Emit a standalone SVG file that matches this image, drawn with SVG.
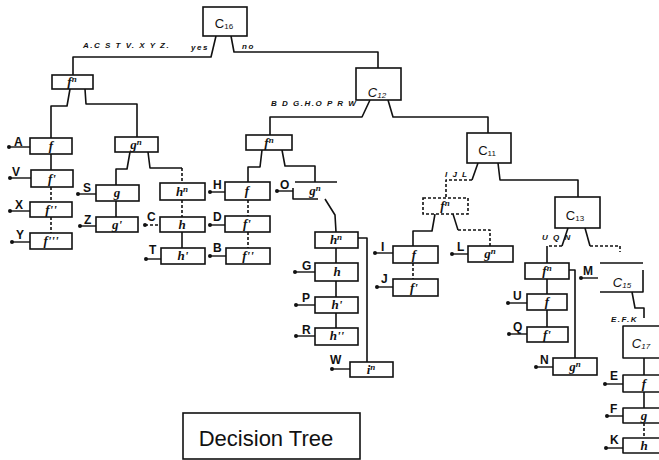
<svg xmlns="http://www.w3.org/2000/svg" width="659" height="460" viewBox="0 0 659 460">
<style>
.b{fill:#fff;stroke:#111;stroke-width:1.6}
.c{fill:none;stroke:#111;stroke-width:1.6;stroke-linejoin:round}
.d{stroke-dasharray:3 2}
.f{font-family:"Liberation Serif",serif;font-style:italic;font-weight:bold;font-size:13px;fill:#111;text-anchor:middle}
.n{font-size:9px}
.C{font-family:"Liberation Sans",sans-serif;font-size:13px;fill:#111;text-anchor:middle}
.L{font-family:"Liberation Sans",sans-serif;font-weight:bold;font-size:12px;fill:#111}
.s{font-family:"Liberation Sans",sans-serif;font-style:italic;font-weight:bold;font-size:8px;fill:#111;letter-spacing:1.5px}
.o{fill:none;stroke:#111;stroke-width:1.4}
.t{font-family:"Liberation Sans",sans-serif;font-size:22px;fill:#111;text-anchor:middle}
</style>
<defs>
<circle id="dot" r="2" fill="#111"/>
</defs>
<rect width="659" height="460" fill="#fff"/>

<g id="connectors">
<path class="c" d="M216,36 L211,57 L73,57 L73,75"/>
<path class="c" d="M231,36 L234,52 L378,52 L378,68"/>
<path class="c" d="M70,89 L67,106 L51,106 L51,138"/>
<path class="c" d="M85,89 L86,104 L137,104 L137,137"/>
<path class="c" d="M51,154 L51,170"/>
<path class="c d" d="M51,187 L51,202"/>
<path class="c d" d="M51,217 L51,233"/>
<path class="c" d="M130,152 L127,169 L116,169 L116,185"/>
<path class="c" d="M148,152 L150,168 L182,168"/>
<path class="c d" d="M182,168 L182,183"/>
<path class="c" d="M116,201 L116,217"/>
<path class="c d" d="M182,200 L182,217"/>
<path class="c" d="M182,232 L182,248"/>
<path class="c" d="M370,100 L362,117 L270,117 L270,135"/>
<path class="c" d="M388,100 L393,117 L488,117 L488,133"/>
<path class="c" d="M262,150 L260,167 L248,167 L248,182"/>
<path class="c" d="M282,150 L285,166 L315,166 L315,182"/>
<path class="c d" d="M248,200 L248,216"/>
<path class="c d" d="M248,232 L248,248"/>
<path class="c" d="M325,199 L335,215 L336,232"/>
<path class="c" d="M336,248 L336,263 M336,281 L336,297 M336,313 L336,328"/>
<path class="c" d="M358,238 L367,238 L367,362"/>
<path class="c" d="M478,163 L472,180"/>
<path class="c d" d="M472,180 L446,180 L446,198"/>
<path class="c" d="M498,163 L500,180 L578,180 L578,197"/>
<path class="c" d="M435,214 L432,231 L413,231 L413,246"/>
<path class="c" d="M453,214 L458,230"/>
<path class="c d" d="M458,230 L490,230 L490,246"/>
<path class="c d" d="M413,263 L413,279"/>
<path class="c" d="M568,228 L562,246"/>
<path class="c d" d="M562,246 L547,246"/>
<path class="c" d="M547,246 L547,263"/>
<path class="c" d="M585,228 L590,246"/>
<path class="c d" d="M590,246 L620,246 L620,252"/>
<path class="c" d="M547,279 L547,294 M547,310 L547,327"/>
<path class="c" d="M569,270 L575,270 L575,358"/>
<path class="c" d="M632,292 L635,308 L644,308 L644,318"/>
<path class="c" d="M644,358 L644,375 M644,392 L644,408"/>
<path class="c d" d="M644,423 L644,438"/>
</g>

<g id="branch-labels">
<text class="s" x="83" y="48">A.C S T V. X Y Z.</text>
<text class="s" x="191" y="50" letter-spacing="0.5">yes</text>
<text class="s" x="242" y="49" letter-spacing="0.5">no</text>
<text class="s" x="271" y="106">B D G.H.O P R W</text>
<text class="s" x="445" y="177">I J L</text>
<text class="s" x="542" y="240">U Q N</text>
<text class="s" x="611" y="322">E.F.K</text>
</g>

<g id="C16"><rect class="b" x="203" y="7" width="44" height="29"/><text class="C" x="224" y="28">C<tspan font-size="8" dy="1">16</tspan></text></g>
<g id="C12"><rect class="b" x="356" y="68" width="45" height="32"/><text class="C" x="377" y="97" font-style="italic">C<tspan font-size="8" dy="1">12</tspan></text></g>
<g id="C11"><rect class="b" x="467" y="133" width="44" height="30"/><text class="C" x="487" y="155">C<tspan font-size="8" dy="1">11</tspan></text></g>
<g id="C13"><rect class="b" x="555" y="197" width="45" height="31"/><text class="C" x="575" y="220">C<tspan font-size="8" dy="1">13</tspan></text></g>
<g id="C15"><path class="c" d="M600,263 H643 M643,270 V292 H600"/><text class="C" x="622" y="287" font-style="italic">C<tspan font-size="8" dy="1">15</tspan></text></g>
<g id="C17"><path class="c" d="M665,326 H623 V358 H665"/><text class="C" x="641" y="348" font-style="italic">C<tspan font-size="8" dy="1">17</tspan></text></g>

<g id="fn-1"><rect class="b" x="52" y="75" width="41" height="14"/><text class="f" x="72" y="86">f<tspan class="n" dy="-4">n</tspan></text></g>
<g id="gn-1"><rect class="b" x="115" y="137" width="43" height="15"/><text class="f" x="136" y="149">g<tspan class="n" dy="-4">n</tspan></text></g>
<g id="hn-1"><rect class="b" x="160" y="183" width="45" height="17"/><text class="f" x="182" y="196">h<tspan class="n" dy="-4">n</tspan></text></g>
<g id="fn-2"><rect class="b" x="246" y="135" width="46" height="15"/><text class="f" x="269" y="147">f<tspan class="n" dy="-4">n</tspan></text></g>
<g id="gn-2"><path class="c" d="M295,182 H337 M293,188 V199 H318"/><text class="f" x="315" y="195">g<tspan class="n" dy="-4">n</tspan></text></g>
<g id="hn-2"><rect class="b" x="315" y="232" width="43" height="16"/><text class="f" x="336" y="244">h<tspan class="n" dy="-4">n</tspan></text></g>
<g id="fn-3"><rect class="b d" x="423" y="198" width="45" height="16"/><text class="f" x="445" y="210">f<tspan class="n" dy="-4">n</tspan></text></g>
<g id="fn-4"><rect class="b" x="525" y="263" width="44" height="16"/><text class="f" x="547" y="275">f<tspan class="n" dy="-4">n</tspan></text></g>

<g id="leaf-A"><rect class="b" x="30" y="138" width="42" height="16"/><text class="f" x="51" y="150">f</text><path class="o" d="M9,147 H30"/><use href="#dot" x="9" y="147"/><text class="L" x="14" y="146">A</text></g>
<g id="leaf-V"><rect class="b" x="31" y="170" width="42" height="17"/><text class="f" x="52" y="183">f'</text><path class="o" d="M10,178 H31"/><use href="#dot" x="10" y="178"/><text class="L" x="12" y="176">V</text></g>
<g id="leaf-X"><rect class="b" x="30" y="202" width="42" height="15"/><text class="f" x="51" y="214">f''</text><path class="o" d="M10,211 H30"/><use href="#dot" x="10" y="211"/><text class="L" x="15" y="209">X</text></g>
<g id="leaf-Y"><rect class="b" x="30" y="233" width="42" height="16"/><text class="f" x="51" y="245">f'''</text><path class="o" d="M12,242 H30"/><use href="#dot" x="12" y="242"/><text class="L" x="16" y="239">Y</text></g>
<g id="leaf-S"><rect class="b" x="96" y="185" width="43" height="16"/><text class="f" x="117" y="197">g</text><path class="o" d="M78,194 H96"/><use href="#dot" x="78" y="194"/><text class="L" x="83" y="192">S</text></g>
<g id="leaf-Z"><rect class="b" x="96" y="217" width="42" height="15"/><text class="f" x="117" y="229">g'</text><path class="o" d="M80,226 H96"/><use href="#dot" x="80" y="226"/><text class="L" x="84" y="224">Z</text></g>
<g id="leaf-C"><rect class="b" x="160" y="217" width="45" height="15"/><text class="f" x="182" y="229">h</text><path class="o d" d="M145,225 H160"/><use href="#dot" x="145" y="225"/><text class="L" x="147" y="221">C</text></g>
<g id="leaf-T"><rect class="b" x="161" y="248" width="44" height="16"/><text class="f" x="183" y="260">h'</text><path class="o" d="M146,259 H161"/><use href="#dot" x="146" y="259"/><text class="L" x="149" y="254">T</text></g>
<g id="leaf-H"><rect class="b" x="225" y="182" width="45" height="18"/><text class="f" x="247" y="195">f</text><path class="o" d="M210,192 H225"/><use href="#dot" x="210" y="192"/><text class="L" x="213" y="189">H</text></g>
<g id="leaf-D"><rect class="b" x="225" y="216" width="45" height="16"/><text class="f" x="247" y="228">f'</text><path class="o" d="M210,225 H225"/><use href="#dot" x="210" y="225"/><text class="L" x="213" y="221">D</text></g>
<g id="leaf-B"><rect class="b" x="226" y="248" width="44" height="16"/><text class="f" x="248" y="260">f''</text><path class="o" d="M210,256 H226"/><use href="#dot" x="210" y="256"/><text class="L" x="213" y="252">B</text></g>
<g id="leaf-O"><path class="o" d="M277,191 H293"/><use href="#dot" x="277" y="191"/><text class="L" x="280" y="189" font-size="13">O</text></g>
<g id="leaf-G"><rect class="b" x="315" y="263" width="43" height="18"/><text class="f" x="337" y="276">h</text><path class="o" d="M295,272 H315"/><use href="#dot" x="295" y="272"/><text class="L" x="302" y="270">G</text></g>
<g id="leaf-P"><rect class="b" x="315" y="297" width="43" height="16"/><text class="f" x="337" y="309">h'</text><path class="o" d="M296,305 H315"/><use href="#dot" x="296" y="305"/><text class="L" x="302" y="302">P</text></g>
<g id="leaf-R"><rect class="b" x="315" y="328" width="43" height="17"/><text class="f" x="337" y="340">h''</text><path class="o" d="M296,336 H315"/><use href="#dot" x="296" y="336"/><text class="L" x="302" y="334">R</text></g>
<g id="leaf-W"><rect class="b" x="350" y="362" width="43" height="15"/><text class="f" x="371" y="374">i<tspan class="n" dy="-4">n</tspan></text><path class="o" d="M332,369 H350"/><use href="#dot" x="332" y="369"/><text class="L" x="330" y="364" font-size="13">W</text></g>
<g id="leaf-I"><rect class="b" x="393" y="246" width="45" height="17"/><text class="f" x="414" y="259">f</text><path class="o" d="M375,253 H393"/><use href="#dot" x="375" y="253"/><text class="L" x="381" y="251">I</text></g>
<g id="leaf-J"><rect class="b" x="393" y="279" width="45" height="17"/><text class="f" x="414" y="292">f'</text><path class="o" d="M377,287 H393"/><use href="#dot" x="377" y="287"/><text class="L" x="381" y="283">J</text></g>
<g id="leaf-L"><rect class="b" x="468" y="246" width="45" height="16"/><text class="f" x="490" y="258">g<tspan class="n" dy="-4">n</tspan></text><path class="o" d="M452,254 H468"/><use href="#dot" x="452" y="254"/><text class="L" x="457" y="251">L</text></g>
<g id="leaf-U"><rect class="b" x="527" y="294" width="40" height="16"/><text class="f" x="547" y="306">f</text><path class="o" d="M508,303 H527"/><use href="#dot" x="508" y="303"/><text class="L" x="513" y="300">U</text></g>
<g id="leaf-Q"><rect class="b" x="527" y="327" width="41" height="15"/><text class="f" x="547" y="339">f'</text><path class="o" d="M509,334 H527"/><use href="#dot" x="509" y="334"/><text class="L" x="513" y="331">Q</text></g>
<g id="leaf-N"><rect class="b" x="553" y="358" width="44" height="17"/><text class="f" x="575" y="371">g<tspan class="n" dy="-4">n</tspan></text><path class="o" d="M536,367 H553"/><use href="#dot" x="536" y="367"/><text class="L" x="540" y="364">N</text></g>
<g id="leaf-M"><path class="o" d="M581,278 H598"/><use href="#dot" x="581" y="278"/><text class="L" x="583" y="275">M</text></g>
<g id="leaf-E"><path class="c" d="M665,375 H623 V392 H665"/><text class="f" x="644" y="388">f</text><path class="o" d="M605,384 H623"/><use href="#dot" x="605" y="384"/><text class="L" x="610" y="380">E</text></g>
<g id="leaf-F"><path class="c" d="M665,408 H623 V423 H665"/><text class="f" x="644" y="420">g</text><path class="o" d="M607,416 H623"/><use href="#dot" x="607" y="416"/><text class="L" x="610" y="413">F</text></g>
<g id="leaf-K"><path class="c" d="M665,438 H623 V453 H665"/><text class="f" x="644" y="450">h</text><path class="o" d="M606,448 H623"/><use href="#dot" x="606" y="448"/><text class="L" x="610" y="444">K</text></g>

<g id="title"><rect class="b" x="183" y="413" width="177" height="46"/><text class="t" x="266" y="446">Decision Tree</text></g>
</svg>
